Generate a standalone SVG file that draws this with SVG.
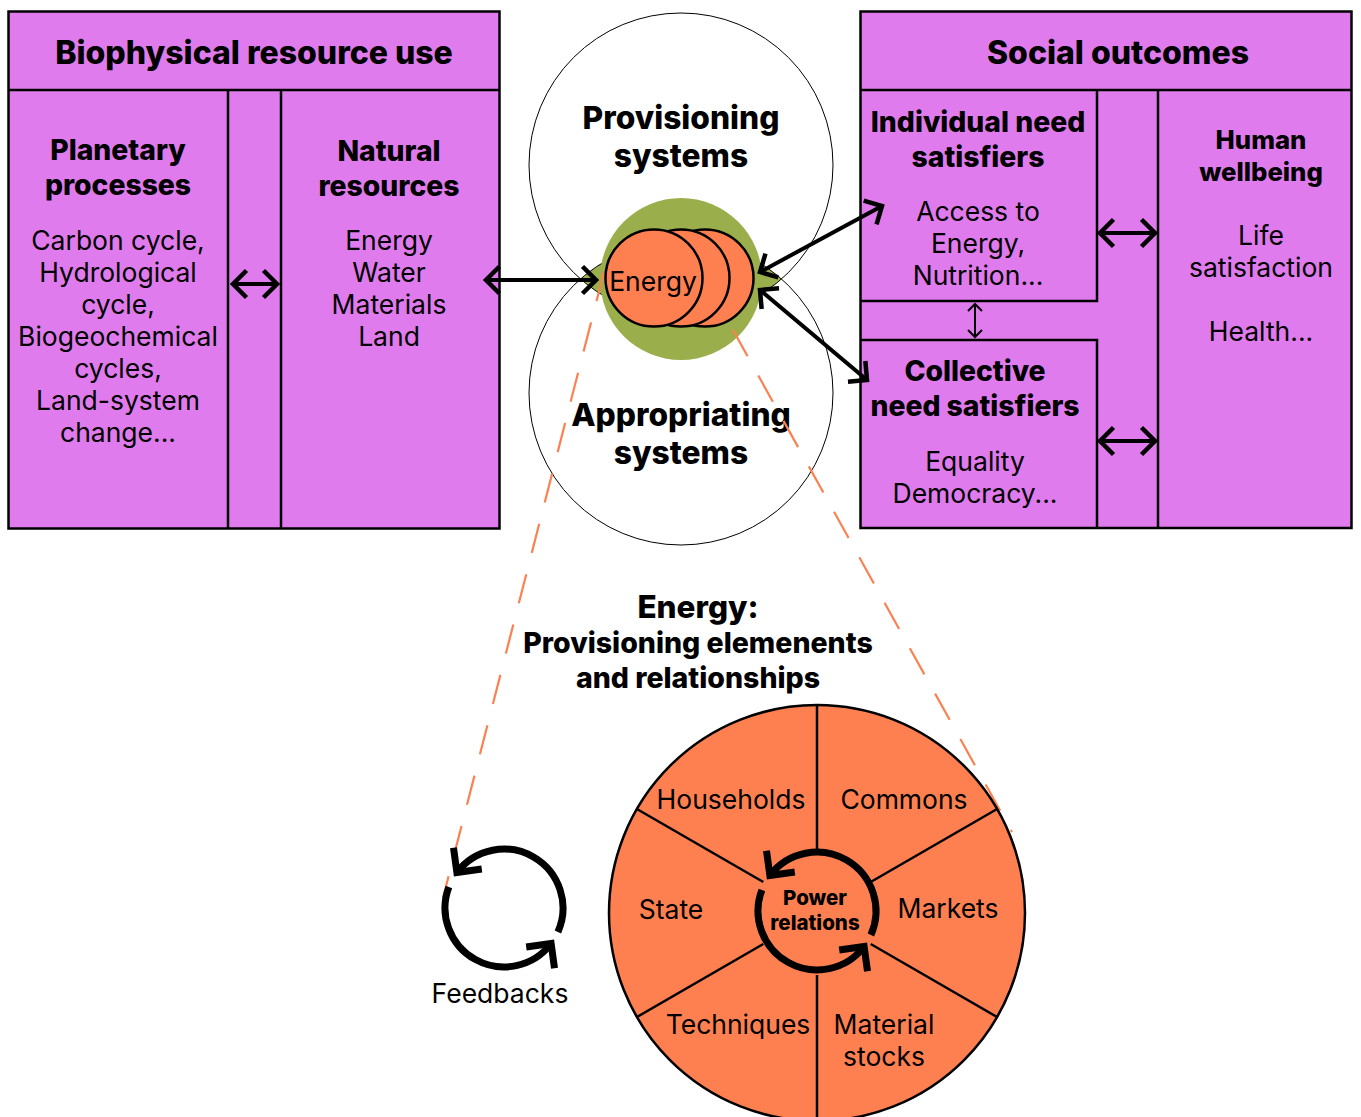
<svg xmlns="http://www.w3.org/2000/svg" width="1361" height="1117" viewBox="0 0 1361 1117">
<style>
text{font-family:Inter,"Liberation Sans",sans-serif;fill:#000;text-anchor:middle;dominant-baseline:central}
.h{font-size:32px;font-weight:800}
.s{font-size:28.3px;font-weight:800}
.b{font-size:26.5px}
.box{fill:#e07bee;stroke:#000;stroke-width:2.5}
.ln{stroke:#000;stroke-width:2.5;fill:none}
.arr{stroke:#000;stroke-width:4;fill:none;marker-start:url(#ch);marker-end:url(#ch)}
.cyc{stroke:#000;stroke-width:7;fill:none}
.dash{stroke:#fb8152;stroke-width:2.2;stroke-dasharray:30 22;fill:none}
</style>
<defs>
<marker id="ch" markerUnits="userSpaceOnUse" viewBox="-20 -20 40 40" markerWidth="40" markerHeight="40" refX="0" refY="0" orient="auto-start-reverse">
<path d="M-13.5,-13.5 L0,0 L-13.5,13.5" stroke="#000" stroke-width="4.5" fill="none"/>
</marker>
<marker id="chs" markerUnits="userSpaceOnUse" viewBox="-10 -10 20 20" markerWidth="20" markerHeight="20" refX="0" refY="0" orient="auto-start-reverse">
<path d="M-7,-7 L0,0 L-7,7" stroke="#000" stroke-width="2" fill="none"/>
</marker>
<g id="cycle">
<path class="cyc" d="M53.9,24 A59,59 0 0 0 -47.1,-35.5"/>
<polyline class="cyc" points="-22.2,-39 -47.1,-35.5 -50.5,-60.3"/>
<path class="cyc" d="M-55.1,-21.1 A59,59 0 0 0 47.1,35.5"/>
<polyline class="cyc" points="22.2,39 47.1,35.5 50.5,60.3"/>
</g>
</defs>

<g id="biophysical">
<rect class="box" x="8.5" y="11.5" width="491" height="517"/>
<line class="ln" x1="8.5" y1="90" x2="499.5" y2="90"/>
<line class="ln" x1="228" y1="90" x2="228" y2="528.5"/>
<line class="ln" x1="281" y1="90" x2="281" y2="528.5"/>
<text class="h" x="254" y="52">Biophysical resource use</text>
<text class="s" x="118" y="150">Planetary</text>
<text class="s" x="118" y="185">processes</text>
<text class="b" x="118" y="240">Carbon cycle,</text>
<text class="b" x="118" y="272">Hydrological</text>
<text class="b" x="118" y="304">cycle,</text>
<text class="b" x="118" y="336">Biogeochemical</text>
<text class="b" x="118" y="368">cycles,</text>
<text class="b" x="118" y="400">Land-system</text>
<text class="b" x="118" y="432">change...</text>
<text class="s" x="389" y="151">Natural</text>
<text class="s" x="389" y="186">resources</text>
<text class="b" x="389" y="240">Energy</text>
<text class="b" x="389" y="272">Water</text>
<text class="b" x="389" y="304">Materials</text>
<text class="b" x="389" y="336">Land</text>
</g>

<g id="social">
<rect class="box" x="860.5" y="11.5" width="491" height="516.5"/>
<line class="ln" x1="860.5" y1="90" x2="1351.5" y2="90"/>
<line class="ln" x1="1158" y1="90" x2="1158" y2="528"/>
<polyline class="ln" points="1097,90 1097,301 860.5,301"/>
<polyline class="ln" points="860.5,340 1097,340 1097,528"/>
<text class="h" x="1118" y="52">Social outcomes</text>
<text class="s" x="978" y="122">Individual need</text>
<text class="s" x="978" y="157">satisfiers</text>
<text class="b" x="978" y="211">Access to</text>
<text class="b" x="978" y="243">Energy,</text>
<text class="b" x="978" y="275">Nutrition...</text>
<text class="s" x="975" y="371">Collective</text>
<text class="s" x="975" y="406">need satisfiers</text>
<text class="b" x="975" y="461">Equality</text>
<text class="b" x="975" y="493">Democracy...</text>
<text class="s" x="1261" y="139" style="font-size:25.7px">Human</text>
<text class="s" x="1261" y="171" style="font-size:25.7px">wellbeing</text>
<text class="b" x="1261" y="235">Life</text>
<text class="b" x="1261" y="267">satisfaction</text>
<text class="b" x="1261" y="331">Health...</text>
</g>

<g id="systems">
<circle cx="681" cy="165" r="152" fill="#fff"/>
<circle cx="681" cy="393" r="152" fill="#fff"/>
<path d="M580.5,279 A152,152 0 0 1 781.5,279 A152,152 0 0 1 580.5,279 Z" fill="#9bae4c"/>
<circle cx="681" cy="165" r="152" fill="none" stroke="#000" stroke-width="1"/>
<circle cx="681" cy="393" r="152" fill="none" stroke="#000" stroke-width="1"/>
<text class="h" x="681" y="117" style="font-size:31.7px">Provisioning</text>
<text class="h" x="681" y="155" style="font-size:31.7px">systems</text>
<text class="h" x="681" y="414" style="font-size:31.7px">Appropriating</text>
<text class="h" x="681" y="452" style="font-size:31.7px">systems</text>
</g>

<g id="energy-hub">
<circle cx="681" cy="279" r="81" fill="#9bae4c"/>
<line class="dash" x1="604" y1="272" x2="443" y2="898"/>
<line class="dash" x1="733" y1="330" x2="1012" y2="832"/>
<circle cx="705" cy="278" r="48.5" fill="#fe8050" stroke="#000" stroke-width="2.5"/>
<circle cx="681" cy="278" r="48.5" fill="#fe8050" stroke="#000" stroke-width="2.5"/>
<circle cx="654" cy="278" r="48.5" fill="#fe8050" stroke="#000" stroke-width="2.5"/>
<text class="b" x="653" y="281">Energy</text>
</g>

<g id="connectors">
<line class="arr" x1="486" y1="280" x2="596" y2="280"/>
<line class="arr" x1="760" y1="272" x2="882" y2="206"/>
<line class="arr" x1="760" y1="290" x2="867" y2="380"/>
<line class="arr" x1="233" y1="284" x2="277" y2="284"/>
<line class="arr" x1="1100" y1="233" x2="1155" y2="233"/>
<line class="arr" x1="1100" y1="441" x2="1155" y2="441"/>
<line x1="975" y1="304" x2="975" y2="337" stroke="#000" stroke-width="2" marker-start="url(#chs)" marker-end="url(#chs)"/>
</g>

<g id="energy-title">
<text class="h" x="698" y="606" style="font-size:31.5px">Energy:</text>
<text class="s" x="698" y="642" style="font-size:28.5px">Provisioning elemenents</text>
<text class="s" x="698" y="677" style="font-size:28.5px">and relationships</text>
</g>

<g id="wheel">
<circle cx="817" cy="913" r="208" fill="#fe8050" stroke="#000" stroke-width="2.5"/>
<g class="ln">
<line x1="817" y1="705" x2="817" y2="851"/>
<line x1="817" y1="975" x2="817" y2="1121"/>
<line x1="870.7" y1="944" x2="997.1" y2="1017"/>
<line x1="763.3" y1="944" x2="636.9" y2="1017"/>
<line x1="763.3" y1="882" x2="636.9" y2="809"/>
<line x1="870.7" y1="882" x2="997.1" y2="809"/>
</g>
<text class="b" x="731" y="799">Households</text>
<text class="b" x="904" y="799">Commons</text>
<text class="b" x="671" y="909">State</text>
<text class="b" x="948" y="908">Markets</text>
<text class="b" x="738" y="1024">Techniques</text>
<text class="b" x="884" y="1024">Material</text>
<text class="b" x="884" y="1056">stocks</text>
<use href="#cycle" transform="translate(817,911)"/>
<text x="815" y="897" style="font-size:20.5px;font-weight:800">Power</text>
<text x="815" y="922" style="font-size:20.5px;font-weight:800">relations</text>
</g>

<g id="feedbacks">
<use href="#cycle" transform="translate(504,908)"/>
<text class="b" x="500" y="993">Feedbacks</text>
</g>
</svg>
